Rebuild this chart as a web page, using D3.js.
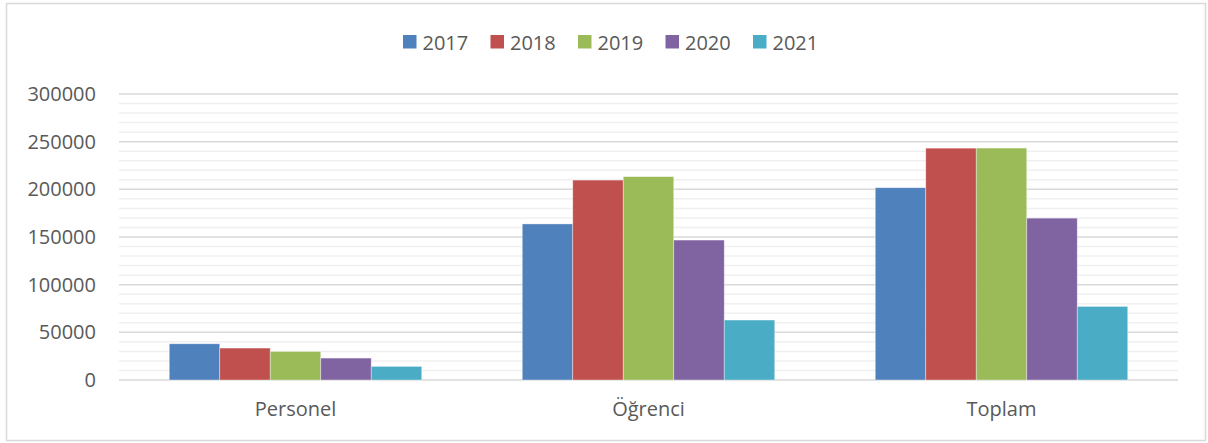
<!DOCTYPE html>
<meta charset="utf-8">
<style>
body { margin: 0; background: #fff; }
svg text { font-family: "Open Sans", Calibri, sans-serif; fill: #595959; }
</style>
<body>
<svg width="1208" height="443"></svg>
<script src="https://cdn.jsdelivr.net/npm/d3@7"></script>
<script>

var categories = ["Personel", "Öğrenci", "Toplam"];
var years = ["2017", "2018", "2019", "2020", "2021"];
var personel = [38000, 33500, 30000, 23000, 14300];
var ogrenci = [163700, 209700, 213300, 146800, 62900];
var toplam = [201700, 243200, 243300, 169800, 77200];
var tickValues = [0, 50000, 100000, 150000, 200000, 250000, 300000];
var colors = ["#4f81bd", "#c0504d", "#9bbb59", "#8064a2", "#4bacc6"];

var series = [personel, ogrenci, toplam];

var svg = d3.select("svg");

// outer frame
svg.append("rect")
    .attr("x", 6.5).attr("y", 3.5)
    .attr("width", 1199).attr("height", 437)
    .attr("fill", "#fff")
    .attr("stroke", "#d9d9d9")
    .attr("stroke-width", 1.5);

var x0 = d3.scaleBand()
    .domain(categories)
    .range([119, 1178]);

var x1 = d3.scaleBand()
    .domain(years)
    .range([0, x0.bandwidth()])
    .paddingOuter(0.995)
    .paddingInner(0);

var y = d3.scaleLinear()
    .domain([0, 300000])
    .range([380, 94]);

// minor gridlines
svg.append("g")
  .selectAll("line")
  .data(d3.range(10000, 300001, 10000).filter(function(d) { return d % 50000 != 0; }))
  .enter().append("line")
    .attr("x1", 119).attr("x2", 1178)
    .attr("y1", function(d) { return y(d); })
    .attr("y2", function(d) { return y(d); })
    .attr("stroke", "#f0f0f0")
    .attr("stroke-width", 1.5);

// major gridlines
svg.append("g")
  .selectAll("line")
  .data(tickValues)
  .enter().append("line")
    .attr("x1", 119).attr("x2", 1178)
    .attr("y1", function(d) { return y(d); })
    .attr("y2", function(d) { return y(d); })
    .attr("stroke", "#d9d9d9")
    .attr("stroke-width", 1.5);

// y axis labels
var yAxis = svg.append("g")
    .attr("transform", "translate(119,0)")
    .call(d3.axisLeft(y).tickValues(tickValues).tickSize(0).tickPadding(23).tickFormat(d3.format("d")));
yAxis.select(".domain").remove();
yAxis.selectAll("text")
    .style("font-size", "20px")
    .attr("font-family", null);

// bars
var groups = svg.append("g")
  .selectAll("g")
  .data(categories)
  .enter().append("g")
    .attr("transform", function(d) { return "translate(" + x0(d) + ",0)"; });

groups.selectAll("rect")
  .data(function(d, i) { return series[i].map(function(v, j) { return {year: years[j], value: v, c: colors[j]}; }); })
  .enter().append("rect")
    .attr("x", function(d) { return x1(d.year); })
    .attr("width", x1.bandwidth())
    .attr("y", function(d) { return y(d.value); })
    .attr("height", function(d) { return y(0) - y(d.value); })
    .attr("fill", function(d) { return d.c; })
    .attr("stroke", "rgba(255,255,255,0.5)")
    .attr("stroke-width", 0.75);

// x axis labels
var xAxis = svg.append("g")
    .attr("transform", "translate(0,380)")
    .call(d3.axisBottom(x0).tickSize(0).tickPadding(22));
xAxis.select(".domain").remove();
xAxis.selectAll("text")
    .style("font-size", "20px")
    .attr("font-family", null);

// legend
var legend = svg.append("g")
  .selectAll("g")
  .data(years)
  .enter().append("g")
    .attr("transform", function(d, i) { return "translate(" + (403 + i * 87.5) + ",35)"; });

legend.append("rect")
    .attr("width", 13.5).attr("height", 13.5)
    .attr("fill", function(d, i) { return colors[i]; });

legend.append("text")
    .attr("x", 19.5)
    .attr("y", 14.5)
    .style("font-size", "20px")
    .text(function(d) { return d; });

</script>
</body>
